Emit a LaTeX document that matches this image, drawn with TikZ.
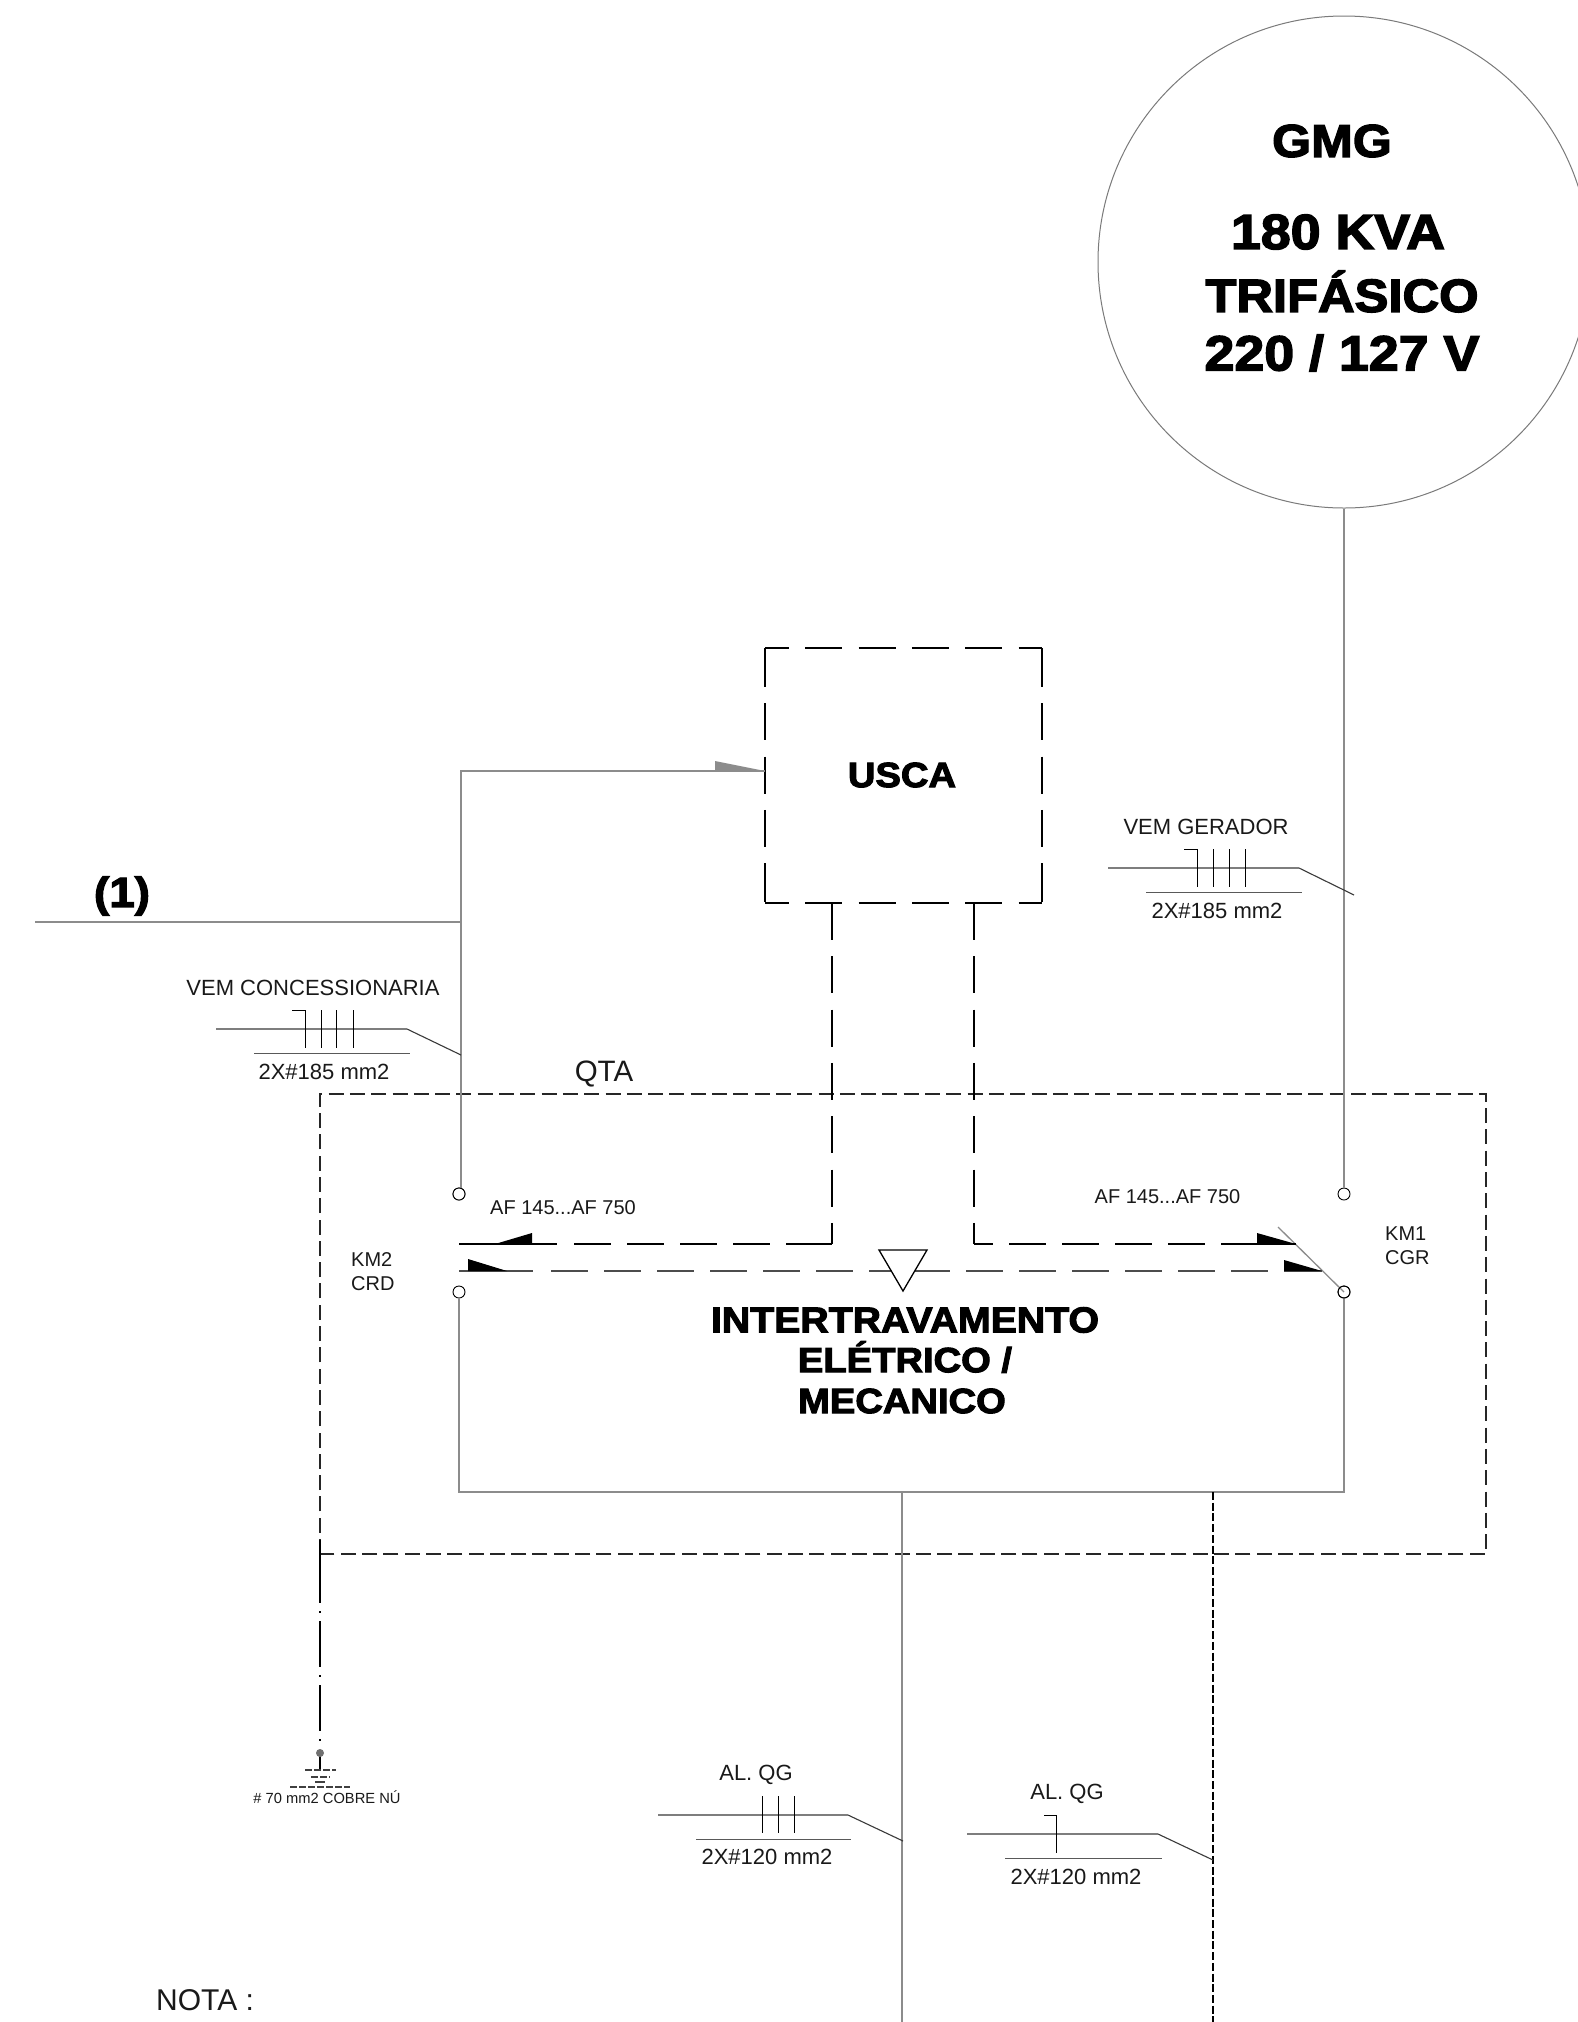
\documentclass[tikz,border=0pt]{standalone}
\usepackage{fontspec}
\setmainfont{Liberation Sans}
\newfontfamily\blk[FakeBold=3,FakeStretch=1.09]{Liberation Sans Bold}
\definecolor{wire}{HTML}{8C8C8C}
\definecolor{ring}{HTML}{7A7A7A}
\definecolor{cable}{HTML}{3A3A3A}
\tikzset{
  wireline/.style={draw=wire,line width=1.3pt},
  longdash/.style={draw=black,line width=1.4pt,dash pattern=on 37pt off 16.3pt},
  sidedash/.style={draw=black,line width=1.4pt,dash pattern=on 39pt off 16.3pt on 37pt off 16.3pt on 37pt off 16.3pt on 37pt off 16.3pt on 39pt off 16.3pt},
  longgrey/.style={draw=black!70,line width=1.4pt,dash pattern=on 37pt off 16pt},
  qtadash/.style={draw=black!85,line width=1.5pt,dash pattern=on 15pt off 6.3pt},
  cableline/.style={draw=cable,line width=1.1pt},
  tick/.style={draw=black,line width=0.9pt},
  under/.style={draw=black!65,line width=1.2pt},
  terminal/.style={circle,draw=black,line width=0.9pt,fill=white,inner sep=0pt,minimum size=12pt},
  halfblack/.style={fill=black,draw=none},
  lbl/.style={inner sep=0pt,text=black!90,font=\fontsize{#1}{#1}\selectfont},
  heavy/.style={inner sep=0pt,text=black,align=center,font=\blk\fontsize{#1}{#1}\selectfont},
}
\newcommand{\cablemark}[7]{% x1 x2 y dx dy ulx1 ulx2
  \draw[cableline] (#1,#3) -- (#2,#3) -- (#4,#5);
  \draw[under] (#6,#3+24.5) -- (#7,#3+24.5);
}
\begin{document}
\begin{tikzpicture}[x=1pt,y=-1pt]
\useasboundingbox (0,0) rectangle (1578,2022);
\fill[white] (0,0) rectangle (1578,2022);

% named anchor points
\coordinate (arrowcorner) at (461,771);
\coordinate (arrowend) at (765,771);
\coordinate (wiretop) at (461,1194);
\coordinate (feedstart) at (35,922);
\coordinate (feedjoin) at (461,922);
\coordinate (boxBL) at (459,1492);
\coordinate (boxBR) at (1344,1492);
\coordinate (outA) at (902,1492);
\coordinate (outAend) at (902,2022);
\coordinate (outB) at (1213,1492);
\coordinate (outBend) at (1213,2022);
\coordinate (c1) at (832,1244);
\coordinate (c2) at (974,1244);
\coordinate (ua) at (765,648);
\coordinate (ub) at (1042,648);
\coordinate (uc) at (1042,903);
\coordinate (ud) at (765,903);

% main shapes
\node[circle,draw=ring,line width=1pt,minimum size=492pt,inner sep=0pt] (gmg) at (1344,262) {};
\draw[longdash,dash phase=13pt] (ua) -- (ub);
\draw[longdash,dash phase=13pt] (ud) -- (uc);
\draw[sidedash] (ua) -- (ud);
\draw[sidedash] (ub) -- (uc);
\node[terminal] (t1) at (459,1194) {};
\node[terminal] (t2) at (459,1292) {};
\node[terminal] (t3) at (1344,1194) {};
\node[terminal] (t4) at (1344,1292) {};

% QTA border
\draw[qtadash] (320,1554) -- (320,1094) -- (1486,1094) -- (1486,1554) -- cycle;

% wires
\draw[wireline] (wiretop) -- (arrowcorner) -- (arrowend);
\node[terminal] at (t1) {};
\draw[wireline] (feedstart) -- (feedjoin);
\draw[wireline] (t2.south) -- (boxBL) -- (boxBR) -- (t4.south);
\draw[wireline] (gmg.south) -- (t3.north);
\draw[wireline] (outA) -- (outAend);
\draw[draw=black,line width=1.7pt,dash pattern=on 8pt off 2.7pt] (outB) -- (outBend);
\draw[wireline] (1278,1227) -- (t4.center);
\node[terminal,fill=none] at (t4) {};
\fill[fill=wire] (715,761) -- (715,771) -- (765,771) -- cycle;

% control lines from USCA
\draw[longdash] (832,903) -- (c1);
\draw[longdash] (974,903) -- (c2);
\draw[draw=black,line width=1.4pt] (459,1244) -- (557,1244);
\draw[draw=black,line width=1.4pt,dash pattern=on 37pt off 16pt] (574,1244) -- (786,1244);
\draw[draw=black,line width=1.4pt] (786,1244) -- (c1);
\draw[draw=black,line width=1.4pt,dash pattern=on 37pt off 16pt,dash phase=18pt] (c2) -- (1223,1244);
\draw[draw=black,line width=1.4pt] (1223,1244) -- (1296,1244);
\draw[draw=black!70,line width=1.4pt] (459,1271) -- (533,1271);
\draw[longgrey] (551,1271) -- (907,1271);
\draw[longgrey] (913,1271) -- (1270,1271);
\draw[draw=black!70,line width=1.4pt] (1284,1271) -- (1322,1271);
\fill[halfblack] (495,1244) -- (532,1233) -- (532,1244) -- cycle;
\fill[halfblack] (468,1259) -- (468,1271) -- (507,1271) -- cycle;
\fill[halfblack] (1257,1233) -- (1257,1244) -- (1296,1244) -- cycle;
\fill[halfblack] (1284,1260) -- (1284,1271) -- (1322,1271) -- cycle;
\draw[draw=black,line width=1.3pt,fill=white,line join=miter] (879,1250) -- (927,1250) -- (903,1291) -- cycle;

% cable marks
\cablemark{216}{407}{1029}{461}{1055}{254}{410}
\draw[tick] (292,1010) -- (305,1010) -- (305,1048);
\foreach \x in {321,336,353} \draw[tick] (\x,1010) -- (\x,1048);
\cablemark{1108}{1299}{868}{1354}{895}{1146}{1302}
\draw[tick] (1184,849) -- (1197,849) -- (1197,887);
\foreach \x in {1213,1229,1245} \draw[tick] (\x,849) -- (\x,887);
\cablemark{658}{848}{1815}{903}{1841}{696}{851}
\foreach \x in {762,778,794} \draw[tick] (\x,1796) -- (\x,1833);
\cablemark{967}{1158}{1834}{1213}{1860}{1005}{1162}
\draw[tick] (1044,1815) -- (1056,1815) -- (1056,1853);

% ground
\draw[draw=black,line width=1.6pt] (320,1540) -- (320,1603);
\draw[draw=black,line width=1.6pt,dash pattern=on 2pt off 8pt on 46pt off 8pt] (320,1611) -- (320,1749);
\draw[draw=black,line width=1.6pt] (320,1753) -- (320,1770);
\node[circle,fill=wire!80!black,inner sep=0pt,minimum size=8pt] (gdot) at (320,1753) {};
\draw[draw=black!75,line width=1.4pt,dash pattern=on 7pt off 2pt] (305,1770) -- (336,1770);
\draw[draw=black!75,line width=1.4pt,dash pattern=on 7pt off 2pt] (311,1777) -- (330,1777);
\draw[draw=black!75,line width=1.4pt] (315,1782) -- (325,1782);
\draw[draw=black!75,line width=1.4pt,dash pattern=on 7pt off 2pt] (290,1787) -- (350,1787);

% heavy labels
\node[heavy=46] (tgmg) at (1332,141) {GMG};
\node[heavy=49.3] (tkva) at (1338,232) {180 KVA};
\node[heavy=46.5] (ttri) at (1342,291.5) {TRIFÁSICO};
\node[heavy=49.3] (tvolt) at (1342,353) {220 / 127 V};
\node[heavy=35] (tusca) at (902,775) {USCA};
\node[heavy=36] (ti1) at (905,1320) {INTERTRAVAMENTO};
\node[heavy=35] (ti2) at (905,1357) {ELÉTRICO /};
\node[heavy=35] (ti3) at (902,1401) {MECANICO};
\node[heavy=42] (tone) at (122,896) {(1)};

% plain labels
\node[lbl=22] (a1) at (313,988) {VEM CONCESSIONARIA};
\node[lbl=22] (a2) at (324,1072) {2X\#185 mm2};
\node[lbl=22] (a3) at (1206,827) {VEM GERADOR};
\node[lbl=22] (a4) at (1217,911) {2X\#185 mm2};
\node[lbl=22] (a5) at (756,1775) {AL. QG};
\node[lbl=22] (a6) at (767,1857) {2X\#120 mm2};
\node[lbl=22] (a7) at (1067,1793.5) {AL. QG};
\node[lbl=22] (a8) at (1076,1877) {2X\#120 mm2};
\node[lbl=20] (a9) at (563,1207.5) {AF 145...AF 750};
\node[lbl=20] (a10) at (1167.5,1196.5) {AF 145...AF 750};
\node[lbl=20,anchor=west] (a11) at (351,1260) {KM2};
\node[lbl=20,anchor=west] (a12) at (351,1284) {CRD};
\node[lbl=20,anchor=west] (a13) at (1385,1234) {KM1};
\node[lbl=20,anchor=west] (a14) at (1385,1258) {CGR};
\node[lbl=29.5] (a15) at (604,1073.5) {QTA};
\node[lbl=14.7] (a16) at (327,1797) {\# 70 mm2 COBRE NÚ};
\node[lbl=30,anchor=west] (a17) at (156,2000) {NOTA :};
\end{tikzpicture}
\end{document}
